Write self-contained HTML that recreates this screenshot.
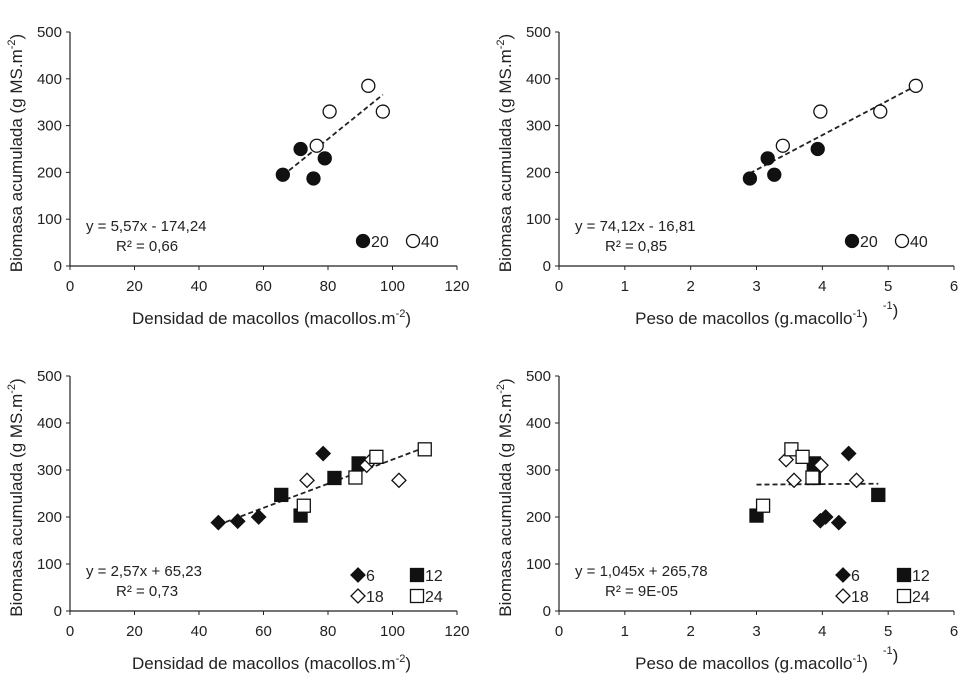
<!DOCTYPE html>
<html><head><meta charset="utf-8"><style>
body{margin:0;background:#fff}
svg{display:block;font-family:"Liberation Sans",Arial,sans-serif;fill:#222}
</style></head><body>
<svg id="c" width="976" height="673"></svg>
<script>
const yTicks=[0,100,200,300,400,500];
const xTicksDens=[0,20,40,60,80,100,120];
const xTicksPeso=[0,1,2,3,4,5,6];
// Panel A: density, 20 vs 40
const aX20=[66,71.5,75.5,79], aY20=[195,250,187,230];
const aX40=[76.5,80.5,92.5,97], aY40=[257,330,385,330];
// Panel B: weight, 20 vs 40
const bX20=[2.9,3.17,3.27,3.93], bY20=[187,230,195,250];
const bX40=[3.4,3.97,4.88,5.42], bY40=[257,330,330,385];
// Panel C: density, 6/12/18/24
const cX6=[46,52,58.5,78.5], cY6=[188,191,200,335];
const cX12=[65.5,71.5,82,89.5], cY12=[247,203,283,314];
const cX18=[73.5,92,93.5,102], cY18=[278,310,322,278];
const cX24=[72.5,88.5,95,110], cY24=[224,284,328,344];
// Panel D: weight, 6/12/18/24
const dX6=[3.97,4.05,4.25,4.4], dY6=[192,200,188,335];
const dX12=[3,3.87,3.87,4.85], dY12=[203,314,283,247];
const dX18=[3.45,3.57,3.98,4.52], dY18=[322,278,310,278];
const dX24=[3.1,3.53,3.7,3.85], dY24=[224,344,328,284];

const NS="http://www.w3.org/2000/svg";
const svg=document.getElementById('c');
function el(t,a,p){const e=document.createElementNS(NS,t);for(const k in a)e.setAttribute(k,a[k]);(p||svg).appendChild(e);return e;}
function txt(s,a,p){const e=el('text',a,p);e.textContent=s;return e;}
const SUP2='<tspan dy="-7" style="font-size:11px">-2</tspan><tspan dy="7">)</tspan>';
const SUP1='<tspan dy="-7" style="font-size:11px">-1</tspan><tspan dy="7">)</tspan>';

function panel(name,x0,x1,xmax,y0,y500,xt,xlabel,sup,eq,r2,slope,icpt,lx0,lx1){
  const g=el('g',{});
  
  
  const sx=v=>x0+(x1-x0)*v/xmax, sy=v=>y0+(y500-y0)*v/500;
  const ax=el('path',{d:`M${x0} ${y500}V${y0}H${x1}`,stroke:'#222',fill:'none','stroke-width':1.2},g);
  
  
  yTicks.forEach(v=>{el('line',{x1:x0-4,x2:x0,y1:sy(v),y2:sy(v),stroke:'#222'},g);
    const t=txt(v,{x:x0-8,y:sy(v)+5,'text-anchor':'end',style:'font-size:15px'},g);
    
    });
  xt.forEach(v=>{el('line',{x1:sx(v),x2:sx(v),y1:y0,y2:y0+4,stroke:'#222'},g);
    const t=txt(v,{x:sx(v),y:y0+25,'text-anchor':'middle',style:'font-size:15px'},g);
    
    });
  const yl=txt('',{transform:`translate(${x0-48},${(y0+y500)/2+4}) rotate(-90)`,'text-anchor':'middle',style:'font-size:17px'},g);
  yl.innerHTML='Biomasa acumulada (g MS.m'+SUP2;
  
  
  const xl=txt('',{x:(x0+x1)/2+(sup?-5:8),y:y0+58,'text-anchor':'middle',style:'font-size:17px'},g);
  xl.innerHTML=xlabel;
  
  
  if(sup){const s=txt('',{x:x0+(x1-x0)*0.82,y:y0+50,style:'font-size:17px'},g);s.innerHTML=SUP1;}
  const e1=txt(eq,{x:x0+16,y:y0-35,style:'font-size:15px'},g);
  
  
  const e2=txt(r2,{x:x0+46,y:y0-15,style:'font-size:15px'},g);
  
  
  const tl=el('line',{x1:sx(lx0),y1:sy(slope*lx0+icpt),x2:sx(lx1),y2:sy(slope*lx1+icpt),stroke:'#222','stroke-width':1.8,'stroke-dasharray':'5,3'},g);
  
  
  return {g,sx,sy};
}
function marker(g,shape,fill,cx,cy){
  let m;
  if(shape==='c') m=el('circle',{cx,cy,r:6.5,fill:fill?'#111':'#fff',stroke:'#111','stroke-width':1.3},g);
  else if(shape==='s') m=el('rect',{x:cx-6.5,y:cy-6.5,width:13,height:13,fill:fill?'#111':'#fff',stroke:'#111','stroke-width':1.3},g);
  else m=el('path',{d:`M${cx} ${cy-7}L${cx+7} ${cy}L${cx} ${cy+7}L${cx-7} ${cy}Z`,fill:fill?'#111':'#fff',stroke:'#111','stroke-width':1.3},g);
  return m;
}
function series(p,xs,ys,shape,fill,nm){
  xs.forEach((x,i)=>{const m=marker(p.g,shape,fill,p.sx(x),p.sy(ys[i]));
    
    });
}
function legend(g,shape,fill,x,y,label){
  const m=marker(g,shape,fill,x,y);
  
  
  const t=txt(label,{x:x+8,y:y+6,style:'font-size:16px'},g);
  
  
}
const densLbl='Densidad de macollos (macollos.m'+SUP2;
const pesoLbl='Peso de macollos (g.macollo'+SUP1;

const A=panel('panel-density-age',70,457,120,266,32,xTicksDens,densLbl,false,'y = 5,57x - 174,24','R² = 0,66',5.57,-174.24,66,97);
series(A,aX20,aY20,'c',true,'point-20');series(A,aX40,aY40,'c',false,'point-40');
legend(A.g,'c',true,363,241,'20');legend(A.g,'c',false,413,241,'40');

const B=panel('panel-weight-age',559,954,6,266,32,xTicksPeso,pesoLbl,true,'y = 74,12x - 16,81','R² = 0,85',74.12,-16.81,2.9,5.42);
series(B,bX20,bY20,'c',true,'point-20');series(B,bX40,bY40,'c',false,'point-40');
legend(B.g,'c',true,852,241,'20');legend(B.g,'c',false,902,241,'40');

const C=panel('panel-density-interval',70,457,120,611,376,xTicksDens,densLbl,false,'y = 2,57x + 65,23','R² = 0,73',2.57,65.23,46,110);
series(C,cX6,cY6,'d',true,'point-6');series(C,cX12,cY12,'s',true,'point-12');
series(C,cX18,cY18,'d',false,'point-18');series(C,cX24,cY24,'s',false,'point-24');
legend(C.g,'d',true,358,575,'6');legend(C.g,'s',true,417,575,'12');
legend(C.g,'d',false,358,596,'18');legend(C.g,'s',false,417,596,'24');

const D=panel('panel-weight-interval',559,954,6,611,376,xTicksPeso,pesoLbl,true,'y = 1,045x + 265,78','R² = 9E-05',1.045,265.78,3,4.85);
series(D,dX6,dY6,'d',true,'point-6');series(D,dX12,dY12,'s',true,'point-12');
series(D,dX18,dY18,'d',false,'point-18');series(D,dX24,dY24,'s',false,'point-24');
legend(D.g,'d',true,843,575,'6');legend(D.g,'s',true,904,575,'12');
legend(D.g,'d',false,843,596,'18');legend(D.g,'s',false,904,596,'24');
</script>
</body></html>
